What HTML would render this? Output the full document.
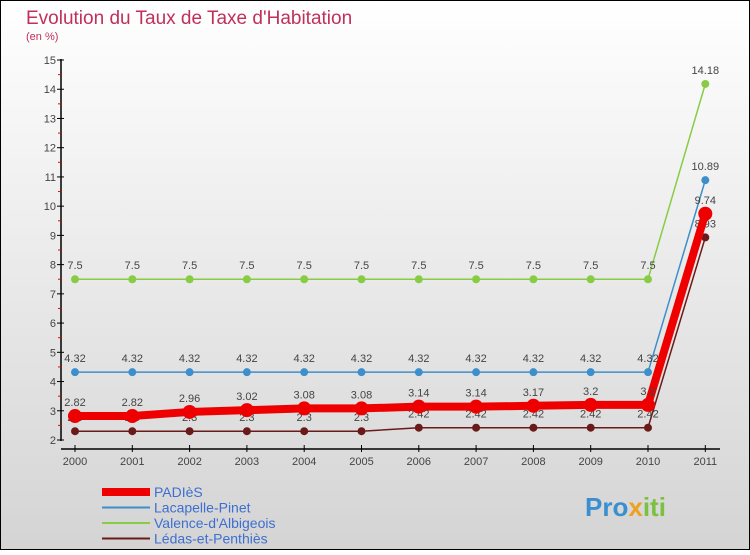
<!DOCTYPE html>
<html><head><meta charset="utf-8"><style>
body{margin:0;width:750px;height:550px;overflow:hidden;font-family:"Liberation Sans",sans-serif}
</style></head><body>
<svg width="750" height="550" xmlns="http://www.w3.org/2000/svg">
<defs><linearGradient id="bg" x1="0" y1="0" x2="0" y2="1"><stop offset="0" stop-color="#ffffff"/><stop offset="1" stop-color="#d4d4d4"/></linearGradient></defs>
<rect x="0.5" y="0.5" width="749" height="549" fill="url(#bg)" stroke="#000"/>
<text x="26" y="24" font-size="19" fill="#c0305a">Evolution du Taux de Taxe d'Habitation</text>
<text x="26" y="40" font-size="11" fill="#c0305a">(en %)</text>
<g id="axes"></g><g id="series"></g><g id="legend"></g>
<text x="585" y="516" font-size="26" font-weight="bold" fill="#3a8fd0">Pro<tspan fill="#f0a020">x</tspan><tspan fill="#7cc040">iti</tspan></text>
</svg>
<script>
const years=[2000,2001,2002,2003,2004,2005,2006,2007,2008,2009,2010,2011];
const yTicks=[2,3,4,5,6,7,8,9,10,11,12,13,14,15];
const padies=[2.82,2.82,2.96,3.02,3.08,3.08,3.14,3.14,3.17,3.2,3.2,9.74];
const lacapelle=[4.32,4.32,4.32,4.32,4.32,4.32,4.32,4.32,4.32,4.32,4.32,10.89];
const valence=[7.5,7.5,7.5,7.5,7.5,7.5,7.5,7.5,7.5,7.5,7.5,14.18];
const ledas=[2.3,2.3,2.3,2.3,2.3,2.3,2.42,2.42,2.42,2.42,2.42,8.93];
const labels={padies:['2.82','2.82','2.96','3.02','3.08','3.08','3.14','3.14','3.17','3.2','3.2','9.74'],lacapelle:lacapelle.map(String),valence:valence.map(String),ledas:ledas.map(String)};
const NS='http://www.w3.org/2000/svg';
const X=i=>75+i*57.3, Y=v=>440-(v-2)*29.23;
function mk(t,a,p){const e=document.createElementNS(NS,t);for(const k in a)e.setAttribute(k,a[k]);p.appendChild(e);return e;}
const ax=document.getElementById('axes');
let l=mk('line',{x1:61,y1:59,x2:61,y2:441,stroke:'#000','stroke-width':1.5},ax);


l=mk('line',{x1:61,y1:449,x2:720,y2:449,stroke:'#000','stroke-width':1.5},ax);


yTicks.forEach(v=>{mk('line',{x1:57,y1:Y(v),x2:64,y2:Y(v),stroke:'#000'},ax);
 if(v<15)mk('line',{x1:58,y1:Y(v+0.5),x2:61,y2:Y(v+0.5),stroke:'#e00'},ax);
 const t=mk('text',{x:56,y:Y(v)+4,'font-size':11,fill:'#444','text-anchor':'end'},ax);t.textContent=v;
 
 });
years.forEach((y,i)=>{mk('line',{x1:X(i),y1:445,x2:X(i),y2:452,stroke:'#000'},ax);
 const t=mk('text',{x:X(i),y:465,'font-size':11,fill:'#444','text-anchor':'middle'},ax);t.textContent=y;
 
 });
const sg=document.getElementById('series');
function draw(vals,lab,color,w,r,name){const g=mk('g',{},sg);
 
 
 mk('polyline',{points:vals.map((v,i)=>X(i)+','+Y(v)).join(' '),fill:'none',stroke:color,'stroke-width':w},g);
 vals.forEach((v,i)=>{const c=mk('circle',{cx:X(i),cy:Y(v),r:r,fill:color},g);
  
  
  const t=mk('text',{x:X(i),y:Y(v)-10,'font-size':11,fill:'#444','text-anchor':'middle'},g);t.textContent=lab[i];});}
draw(valence,labels.valence,'#88cc44',1.5,4,'valence-series');
draw(lacapelle,labels.lacapelle,'#3d8fcc',1.5,4,'lacapelle-series');
draw(ledas,labels.ledas,'#6b1a1a',1.5,4,'ledas-series');
draw(padies,labels.padies,'#ee0000',8,7,'padies-series');
const lg=document.getElementById('legend');
[['PADIèS','#ee0000',8],['Lacapelle-Pinet','#3d8fcc',2],['Valence-d\'Albigeois','#88cc44',2],['Lédas-et-Penthiès','#6b1a1a',2]].forEach((d,i)=>{
 const y=492+i*15.5;const g=mk('g',{},lg);
 
 
 mk('line',{x1:102,y1:y,x2:150,y2:y,stroke:d[1],'stroke-width':d[2]},g);
 const t=mk('text',{x:154,y:y+5,'font-size':14,fill:'#3d6fd0'},g);t.textContent=d[0];});
</script>
</body></html>
